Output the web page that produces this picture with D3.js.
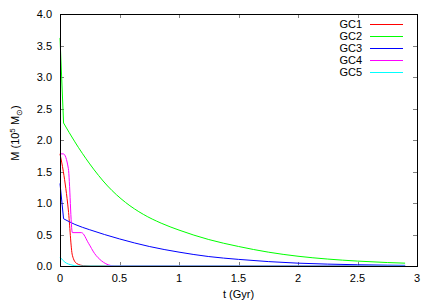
<!DOCTYPE html>
<html>
<head>
<meta charset="utf-8">
<script src="https://cdn.jsdelivr.net/npm/d3@7"></script>
<style>
  body { margin: 0; background: #fff; }
  text { font-family: "Liberation Sans", Arial, sans-serif; font-size: 11px; fill: #000; }
</style>
</head>
<body>
<script>
// values (t in Gyr, M in 1e5 Msun)
const names = ['GC1', 'GC2', 'GC3', 'GC4', 'GC5'];
const colours = ['#ff0000', '#00ff00', '#0000ff', '#ff00ff', '#00ffff'];
const gc1 = [[0, 1.78], [0.028, 1.5], [0.07, 0.89], [0.104, 0.17], [0.14, 0.04], [0.2, 0.005], [0.26, 0], [2.9, 0]];
const gc2 = [[0, 3.62], [0.03, 2.27], [0.125, 1.97], [0.25, 1.62], [0.4, 1.27], [0.55, 1.01], [0.7, 0.82],
             [0.85, 0.68], [1.0, 0.57], [1.25, 0.42], [1.5, 0.31], [1.75, 0.22], [2.0, 0.155], [2.25, 0.11],
             [2.5, 0.078], [2.75, 0.055], [2.9, 0.045]];
const gc3 = [[0, 1.31], [0.03, 0.75], [0.125, 0.66], [0.25, 0.575], [0.5, 0.43], [0.75, 0.31], [1.0, 0.22],
             [1.25, 0.15], [1.5, 0.105], [1.75, 0.07], [2.0, 0.045], [2.25, 0.03], [2.5, 0.02], [2.75, 0.013], [2.9, 0.01]];
const gc4 = [[0, 1.78], [0.028, 1.78], [0.07, 1.55], [0.104, 0.53], [0.18, 0.53], [0.24, 0.36], [0.29, 0.2],
             [0.35, 0.08], [0.41, 0.016], [0.46, 0], [2.9, 0]];
const gc5 = [[0, 0.14], [0.042, 0.06], [0.1, 0.015], [0.15, 0], [2.9, 0]];
const series = [gc1, gc2, gc3, gc4, gc5];
// index of the sharp corner: points before it are joined straight, after it smoothly
const kinks = [0, 1, 1, 0, 0];
const xTicks = [0, 0.5, 1, 1.5, 2, 2.5, 3];
const yTicks = [0, 0.5, 1, 1.5, 2, 2.5, 3, 3.5, 4];

const width = 436, height = 305;
const margin = {left: 60, right: 19, top: 14, bottom: 39};

const svg = d3.select('body').append('svg')
    .attr('width', width)
    .attr('height', height);

const x = d3.scaleLinear().domain([0, 3]).range([margin.left, width - margin.right]);
const y = d3.scaleLinear().domain([0, 4]).range([height - margin.bottom, margin.top]);

// ticks, mirrored on all four sides, pointing inward
const tickLen = 4;
const tickColour = '#808080';
const tg = svg.append('g').attr('stroke', tickColour).attr('stroke-width', 1);
xTicks.forEach(t => {
    const px = Math.round(x(t)) + 0.5;
    tg.append('line').attr('x1', px).attr('x2', px).attr('y1', y(0)).attr('y2', y(0) - tickLen);
    tg.append('line').attr('x1', px).attr('x2', px).attr('y1', y(4)).attr('y2', y(4) + tickLen);
});
yTicks.forEach(t => {
    const py = Math.round(y(t)) + 0.5;
    tg.append('line').attr('x1', x(0)).attr('x2', x(0) + tickLen).attr('y1', py).attr('y2', py);
    tg.append('line').attr('x1', x(3)).attr('x2', x(3) - tickLen).attr('y1', py).attr('y2', py);
});

// tick labels
svg.append('g').selectAll('text')
    .data(xTicks).enter().append('text')
    .attr('x', d => x(d))
    .attr('y', y(0) + 16)
    .attr('text-anchor', 'middle')
    .text(d => d3.format('')(d));

svg.append('g').selectAll('text')
    .data(yTicks).enter().append('text')
    .attr('x', x(0) - 8)
    .attr('y', d => y(d) + 4)
    .attr('text-anchor', 'end')
    .text(d => d.toFixed(1));

// curves
const straight = d3.line().x(d => x(d[0])).y(d => y(d[1]));
const smooth = d3.line().x(d => x(d[0])).y(d => y(d[1])).curve(d3.curveMonotoneX);
const plot = svg.append('g');
series.forEach((s, i) => {
    const k = kinks[i];
    const d = (k > 0 ? straight(s.slice(0, k + 1)) : '') +
              (k > 0 ? smooth(s.slice(k)).replace(/^M/, 'L') : smooth(s));
    plot.append('path')
        .attr('d', d)
        .attr('fill', 'none')
        .attr('stroke', colours[i])
        .attr('stroke-width', 1);
});

// frame
svg.append('rect')
    .attr('x', x(0) + 0.5).attr('y', y(4) + 0.5)
    .attr('width', x(3) - x(0)).attr('height', y(0) - y(4))
    .attr('fill', 'none').attr('stroke', '#000').attr('stroke-width', 1);

// legend
const legend = svg.append('g');
names.forEach((n, i) => {
    const ly = 24 + i * 12;
    legend.append('text')
        .attr('x', 362).attr('y', ly + 4)
        .attr('text-anchor', 'end')
        .text(n);
    legend.append('line')
        .attr('x1', 370).attr('x2', 403)
        .attr('y1', ly + 0.5).attr('y2', ly + 0.5)
        .attr('stroke', colours[i]).attr('stroke-width', 1);
});

// axis titles
svg.append('text')
    .attr('x', (x(0) + x(3)) / 2)
    .attr('y', 298)
    .attr('text-anchor', 'middle')
    .text('t (Gyr)');

const yl = svg.append('text')
    .attr('transform', 'translate(19,133) rotate(-90)')
    .attr('text-anchor', 'middle');
yl.append('tspan').text('M (10');
yl.append('tspan').attr('dy', -4).attr('font-size', '8px').text('5');
yl.append('tspan').attr('dy', 4).text(' M');
yl.append('tspan').attr('dy', 3).attr('font-size', '8px').text('\u2299');
yl.append('tspan').attr('dy', -3).text(')');
</script>
</body>
</html>
